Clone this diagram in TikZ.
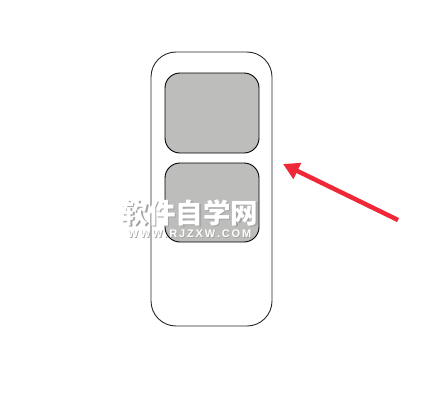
\documentclass[tikz,border=0pt]{standalone}
\usepackage{fontspec}
\setmainfont{Liberation Sans}
\newfontfamily\cjk{Noto Sans CJK SC}
\usetikzlibrary{arrows.meta}
\definecolor{panelgray}{RGB}{189,190,188}
\definecolor{arrowred}{RGB}{238,40,55}
\definecolor{wmshadow}{RGB}{165,165,165}
\tikzset{
  body/.style={draw=black!85, line width=0.9pt, rounded corners=25pt, fill=white},
  panel/.style={draw=black, line width=0.9pt, rounded corners=15pt, fill=panelgray},
  pointer/.style={draw=arrowred, line width=4.5pt, -{Triangle[length=16pt,width=17pt]}},
  wmcn/.style={font=\cjk\bfseries\fontsize{27.5}{27.5}\selectfont, inner sep=0pt},
  wmen/.style={font=\bfseries\fontsize{11}{11}\selectfont, inner sep=0pt}
}
\begin{document}
\begin{tikzpicture}[x=1pt,y=-1pt]
\useasboundingbox (0,0) rectangle (435,408);
\draw[body] (151,52) rectangle (272,326);
\draw[panel] (165,73) rectangle (259,153);
\draw[panel] (165,163) rectangle (259,242);
\coordinate (tail) at (398,220);
\coordinate (tip) at (283,164);
\draw[pointer] (tail) -- (tip);
% watermark
\node[wmcn, text=wmshadow] (wmcns) at (190.8,214.3) {软件自学网};
\node[wmcn, text=white] (wmcn) at (189.5,213) {软件自学网};
\node[wmen, text=wmshadow] (wmens) at (190.3,234.3) {W\,W\,W\,.\,R\,J\,Z\,X\,W\,.\,C\,O\,M};
\node[wmen, text=white] (wmen) at (189.5,233.5) {W\,W\,W\,.\,R\,J\,Z\,X\,W\,.\,C\,O\,M};
\end{tikzpicture}
\end{document}
